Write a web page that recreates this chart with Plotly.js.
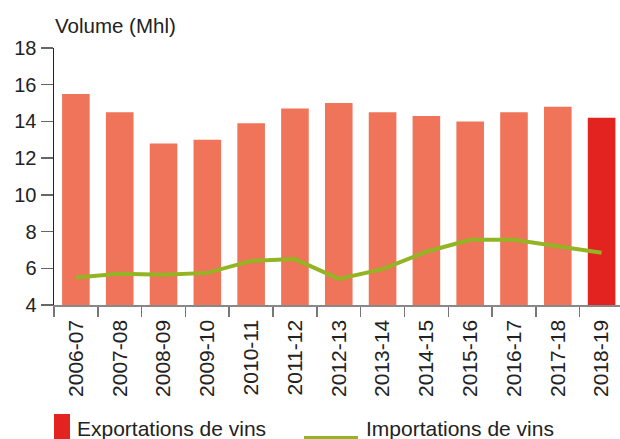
<!DOCTYPE html>
<html>
<head>
<meta charset="utf-8">
<script src="https://cdn.plot.ly/plotly-3.0.1.min.js"></script>
<style>html,body{margin:0;padding:0;background:#fff;}#chart{width:620px;height:439px;}</style>
</head>
<body>
<div id="chart"></div>
<script>
const seasons = ["2006-07","2007-08","2008-09","2009-10","2010-11","2011-12","2012-13","2013-14","2014-15","2015-16","2016-17","2017-18","2018-19"];
const exportations = [15.5, 14.5, 12.8, 13.0, 13.9, 14.7, 15.0, 14.5, 14.3, 14.0, 14.5, 14.8, 14.2];
const importations = [5.5, 5.7, 5.65, 5.75, 6.4, 6.5, 5.42, 5.95, 6.9, 7.55, 7.55, 7.2, 6.85];
const exportName = "Exportations de vins";
const importName = "Importations de vins";
const yTitle = "Volume (Mhl)";

const barColor = "#EF7459";
const lastBarColor = "#E2231F";
const lineColor = "#93B524";
const font = "Liberation Sans, Arial, sans-serif";

const barColors = seasons.map((s, i) => i === seasons.length - 1 ? lastBarColor : barColor);

const L = 54, R = 620, T = 48, B = 305, W = 620, H = 439;
const px = x => (x - L) / (R - L);
const py = y => (B - y) / (B - T);

const traces = [
  {type: "bar", x: seasons, y: exportations, name: exportName, width: 0.63,
   marker: {color: barColors}, showlegend: false, hoverinfo: "x+y"},
  {type: "scatter", mode: "lines", x: seasons, y: importations, name: importName,
   line: {color: lineColor, width: 4}, showlegend: false}
];

const layout = {
  width: W, height: H,
  margin: {l: L, r: W - R, t: T, b: H - B, pad: 0},
  paper_bgcolor: "#fff", plot_bgcolor: "#fff",
  font: {family: font, color: "#222", size: 20},
  title: {text: yTitle, x: 55 / W, xanchor: "left", xref: "container", y: 1 - 26 / H, yanchor: "middle",
          yref: "container", font: {size: 20.5, color: "#222", family: font}},
  xaxis: {type: "category", range: [-0.5, 12.42], tickangle: -90, tickson: "boundaries",
          ticks: "outside", ticklen: 10, tickcolor: "#777", tickwidth: 1.5, ticklabelstandoff: 5,
          showline: true, linecolor: "#888", linewidth: 1.5, showgrid: false, zeroline: false,
          tickfont: {size: 21, color: "#222"}, fixedrange: true},
  yaxis: {range: [4, 18], tickvals: [4,6,8,10,12,14,16,18], ticks: "outside", ticklen: 12,
          tickcolor: "#666", tickwidth: 1.5, showline: true, linecolor: "#222", linewidth: 1.5,
          showgrid: false, zeroline: false, tickfont: {size: 20, color: "#222"}, fixedrange: true},
  shapes: [
    {type: "rect", xref: "paper", yref: "paper", x0: px(54), x1: px(70), y0: py(414), y1: py(445),
     fillcolor: lastBarColor, line: {width: 0}},
    {type: "line", xref: "paper", yref: "paper", x0: px(304), x1: px(358), y0: py(438), y1: py(438),
     line: {color: lineColor, width: 4}}
  ],
  annotations: [
    {xref: "paper", yref: "paper", x: px(75), y: py(428), xanchor: "left", yanchor: "middle",
     text: exportName, showarrow: false, font: {size: 21, color: "#222"}},
    {xref: "paper", yref: "paper", x: px(364), y: py(428), xanchor: "left", yanchor: "middle",
     text: importName, showarrow: false, font: {size: 21, color: "#222"}}
  ],
  showlegend: false,
  bargap: 0.37
};

Plotly.newPlot("chart", traces, layout, {displayModeBar: false, staticPlot: true});
</script>
</body>
</html>
